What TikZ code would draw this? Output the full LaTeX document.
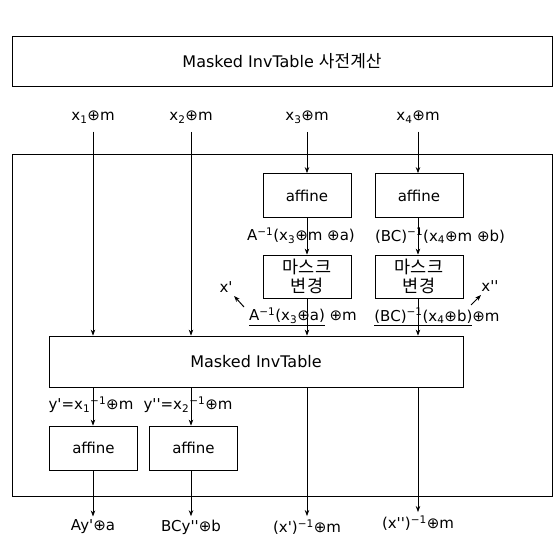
\documentclass[tikz,border=0pt]{standalone}
\usepackage{fontspec}
\newfontfamily\dv{DejaVu Sans}[Ligatures=TeXOff]
\newfontfamily\kr{Noto Sans CJK KR}
\usetikzlibrary{arrows.meta}
\newcommand{\idx}[1]{\textsubscript{#1}}
\newcommand{\minv}{\textsuperscript{−1}}

\begin{document}
\begin{tikzpicture}[
    x=1pt, y=-1pt,
    >={Stealth[length=6pt,width=4.5pt]},
    every node/.style={font=\dv\fontsize{15}{18}\selectfont},
    % boxes
    blk/.style={draw, line width=0.8pt, inner sep=0pt,
        minimum width=88pt, minimum height=44pt},
    krblk/.style={blk, align=center, font=\kr\fontsize{17.5}{19}\selectfont},
    titlefont/.style={font=\dv\fontsize{16}{19}\selectfont},
    % connectors
    wire/.style={->, line width=0.7pt},
    ptr/.style={->, line width=1pt},
    lbl/.style={inner sep=1pt},
]
\useasboundingbox (0,0) rectangle (555,543);

%% precompute box and frame
\node[blk, titlefont, minimum width=540pt, minimum height=50pt] (pre) at (282,61)
    {Masked InvTable {\kr\fontsize{17}{19}\selectfont 사전계산}};
\node[blk, minimum width=540pt, minimum height=342pt] (frame) at (282,325) {};

%% masked inputs
\node (in1) at (93,117) {x\idx{1}⊕m};
\node (in2) at (191,117) {x\idx{2}⊕m};
\node (in3) at (307,117) {x\idx{3}⊕m};
\node (in4) at (418,117) {x\idx{4}⊕m};

%% affine + mask change on x3, x4
\node[blk] (aff1) at (307,195.5) {affine};
\node[blk] (aff2) at (419,195.5) {affine};
\node[krblk, minimum height=43pt] (msk1) at (307,276.5) {마스크\\변경};
\node[krblk, minimum height=43pt] (msk2) at (419,276.5) {마스크\\변경};

\node[lbl] (t1) at (301,236) {A\minv(x\idx{3}⊕m ⊕a)};
\node[lbl] (t2) at (440,236) {(BC)\minv(x\idx{4}⊕m ⊕b)};
\node[lbl] (u1) at (303,317) {\underline{A\minv(x\idx{3}⊕a)} ⊕m};
\node[lbl] (u2) at (437,317) {\underline{(BC)\minv(x\idx{4}⊕b)}⊕m};
\node (xp) at (226,287) {x'};
\node (xpp) at (490,286) {x''};
\coordinate (xpfoot) at (244,307);
\coordinate (xppfoot) at (471,305);

%% table lookup
\node[blk, titlefont, minimum width=414pt, minimum height=51pt] (inv) at (256,361.5)
    {Masked InvTable};

\node[lbl] (y1) at (91,405) {y'=x\idx{1}\minv⊕m};
\node[lbl] (y2) at (188,405) {y''=x\idx{2}\minv⊕m};
\node[blk] (aff3) at (93.5,448) {affine};
\node[blk] (aff4) at (193.5,448) {affine};

%% outputs
\node (out1) at (93,527) {Ay'⊕a};
\node (out2) at (191,527) {BCy''⊕b};
\node (out3) at (307,527) {(x')\minv⊕m};
\node (out4) at (418,523) {(x'')\minv⊕m};

%% connectors
\draw[wire, shorten <=5pt] (in1) -- (in1 |- inv.north);
\draw[wire, shorten <=5pt] (in2) -- (in2 |- inv.north);
\draw[wire, shorten <=5pt] (in3) -- (aff1);
\draw[wire, shorten <=5pt] (in4) -- (in4 |- aff2.north);
\draw[wire] (aff1) -- (msk1);
\draw[wire] (aff2.south -| in4) -- (in4 |- msk2.north);
\draw[wire] (msk1) -- (msk1 |- inv.north);
\draw[wire] (msk2.south -| in4) -- (in4 |- inv.north);
\draw[wire] (in1 |- inv.south) -- (in1 |- aff3.north);
\draw[wire] (in2 |- inv.south) -- (in2 |- aff4.north);
\draw[wire] (in3 |- inv.south) -- (out3);
\draw[wire] (in4 |- inv.south) -- (out4);
\draw[wire] (aff3.south -| in1) -- (out1);
\draw[wire] (aff4.south -| in2) -- (out2);
\draw[ptr] (xpfoot) -- (xp);
\draw[ptr] (xppfoot) -- (xpp);

\end{tikzpicture}
\end{document}
